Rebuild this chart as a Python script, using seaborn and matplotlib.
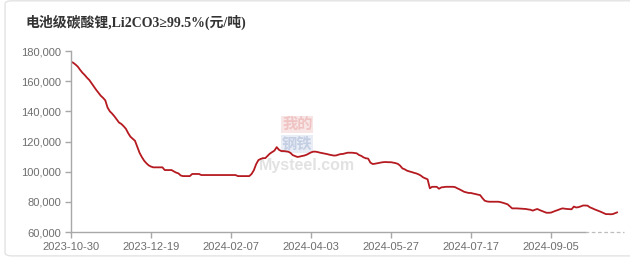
import matplotlib
matplotlib.use("Agg")
import matplotlib.pyplot as plt
import seaborn as sns
import pandas as pd
from matplotlib.patches import FancyBboxPatch
from matplotlib.ticker import FuncFormatter

# ---- data ----
title = "电池级碳酸锂,Li2CO3≥99.5%(元/吨)"
tick_dates = ["2023-10-30", "2023-12-19", "2024-02-07", "2024-04-03",
              "2024-05-27", "2024-07-17", "2024-09-05"]
tick_step = 35  # trading days between labelled dates

prices = [
    172900, 172200, 171000, 169600, 167500, 165600, 164100, 162300, 160800, 158600,
    156500, 154300, 152400, 150400, 149000, 147300, 142500, 140000, 138500, 136700,
    134600, 132600, 131700, 130200, 128500, 125600, 123200, 121800, 120500, 116500,
    112500, 109700, 107300, 105600, 104200, 103400, 102900, 102900, 102900, 102900,
    102900, 101100, 101100, 101100, 101100, 100200, 99400, 98900, 97500, 97100,
    97100, 97100, 97100, 98500, 98500, 98500, 98500, 97800, 97800, 97800,
    97800, 97800, 97800, 97800, 97800, 97800, 97800, 97800, 97800, 97800,
    97800, 97800, 97800, 97100, 97100, 97100, 97100, 97100, 97100, 98500,
    101000, 105000, 107700, 108500, 109000, 109000, 110500, 112000, 113000, 114000,
    116300, 114500, 113700, 113700, 113500, 113300, 112500, 111000, 110400, 109800,
    110000, 110400, 110700, 111200, 112000, 112800, 113300, 113300, 113000, 112600,
    112300, 112000, 111700, 111300, 111000, 110700, 110800, 111300, 111700, 111800,
    112200, 112600, 112600, 112600, 112400, 112200, 111100, 110500, 109500, 108900,
    108700, 106000, 105100, 105300, 105600, 105900, 106200, 106400, 106400, 106300,
    106300, 106000, 105700, 105200, 104000, 102200, 101600, 100700, 100200, 99800,
    99300, 98900, 98300, 97500, 96300, 95600, 95000, 89000, 90000, 90000,
    90000, 88700, 89600, 89800, 90000, 90000, 90000, 90000, 89800, 89000,
    88300, 87500, 86700, 86300, 85900, 85900, 85500, 85200, 84800, 84500,
    82500, 80800, 80300, 80100, 80100, 80100, 80100, 80100, 79800, 79400,
    78900, 78400, 77000, 75700, 75700, 75700, 75600, 75500, 75400, 75300,
    75000, 74800, 74200, 74800, 75300, 74600, 74000, 73400, 72800, 72800,
    72900, 73500, 74100, 74600, 75200, 75700, 75500, 75300, 75200, 75100,
    76900, 76300, 76500, 77000, 77600, 77600, 77500, 76400, 75800, 75100,
    74500, 73900, 73300, 72600, 71900, 71900, 71800, 71900, 72500, 73100,
]
y_ticks = [60000, 80000, 100000, 120000, 140000, 160000, 180000]

df = pd.DataFrame({"day": range(len(prices)), "price": prices})

# ---- style ----
sns.set_style("ticks")
plt.rcParams["font.family"] = ["Liberation Sans", "DejaVu Sans"]

fig = plt.figure(figsize=(6.3, 2.59), dpi=100)
fig.patch.set_facecolor("white")
border = FancyBboxPatch((0.008, 0.012), 1.1, 0.985, boxstyle="round,pad=0,rounding_size=0.012",
                        transform=fig.transFigure, facecolor="white",
                        edgecolor="#e3e3e3", linewidth=1.0, zorder=-10)
fig.patches.append(border)

ax = fig.add_axes([0.1127, 0.104, 0.878, 0.699])
ax.set_facecolor("none")
ax.set_zorder(2)

# watermark (drawn beneath the axes)
fig.text(0.472, 0.52, "我的", fontsize=11, color="#eeb8b8", ha="center", va="center",
         family=["Noto Sans CJK SC"], fontweight="bold", alpha=0.75, zorder=-5,
         bbox=dict(facecolor="#f8e6e6", edgecolor="none", pad=0.5))
fig.text(0.472, 0.445, "钢铁", fontsize=11, color="#b9c6de", ha="center", va="center",
         family=["Noto Sans CJK SC"], fontweight="bold", alpha=0.75, zorder=-5,
         bbox=dict(facecolor="#e8edf6", edgecolor="none", pad=0.5))
fig.text(0.487, 0.36, "Mysteel.com", fontsize=11.5, color="#e2e2e2", ha="center", va="center",
         fontweight="bold", zorder=-5)

sns.lineplot(data=df, x="day", y="price", ax=ax, color="#b51a20", linewidth=1.3)

ax.set_xlim(0, 242)
ax.set_ylim(60000, 180000)
ax.set_yticks(y_ticks)
ax.yaxis.set_major_formatter(FuncFormatter(lambda v, p: f"{int(v):,}"))
ax.set_xticks([i * tick_step for i in range(len(tick_dates))])
ax.set_xticklabels(tick_dates)
ax.set_xlabel("")
ax.set_ylabel("")

for s in ["top", "right"]:
    ax.spines[s].set_visible(False)
for s in ["left", "bottom"]:
    ax.spines[s].set_color("#a8a8a8")
    ax.spines[s].set_linewidth(1.0)
ax.spines["bottom"].set_bounds(0, 225)
ax.plot([225, 242], [60000, 60000], color="#bdbdbd", linewidth=0.9,
        linestyle=(0, (3, 2)), clip_on=False)

ax.tick_params(axis="both", colors="#a8a8a8", labelcolor="#6e6e6e",
               labelsize=8, length=4, width=1.0, direction="out", pad=3)

fig.text(0.041, 0.915, title, fontsize=10, fontweight="bold", color="#333333",
         ha="left", va="center", family=["Liberation Serif", "Noto Sans CJK SC", "DejaVu Sans"])

fig.savefig("out.png", dpi=100)
